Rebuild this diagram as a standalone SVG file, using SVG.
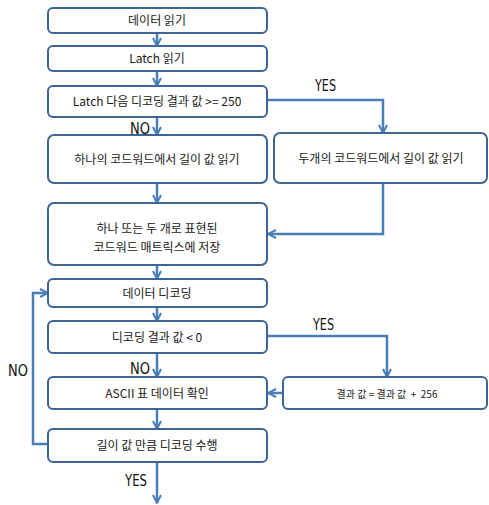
<svg xmlns="http://www.w3.org/2000/svg" width="489" height="505" viewBox="0 0 489 505">
<defs>
<style>
.box{fill:#fff;stroke:#3d6596;stroke-width:2}
.t{font-family:"Noto Sans CJK KR","Liberation Sans",sans-serif;font-size:12px;fill:#1a1a1a;text-anchor:middle}
.lbl{font-family:"DejaVu Sans","Noto Sans CJK KR",sans-serif;font-size:16px;fill:#111}
.c{fill:none;stroke:#4a7ebb;stroke-width:2.5}
</style>
<marker id="ah" viewBox="0 0 10 10" refX="9" refY="5" markerWidth="4" markerHeight="4" orient="auto" markerUnits="strokeWidth">
<path d="M1,1 L9,5 L1,9" fill="none" stroke="#4a7ebb" stroke-width="2"/>
</marker>
</defs>
<rect width="489" height="505" fill="#fff"/>
<g id="connectors">
<path class="c" d="M157,33 V46" marker-end="url(#ah)"/>
<path class="c" d="M157,71 V86" marker-end="url(#ah)"/>
<path class="c" d="M157,117 V135" marker-end="url(#ah)"/>
<path class="c" d="M267,100 H383 V133" marker-end="url(#ah)"/>
<path class="c" d="M157,183 V203" marker-end="url(#ah)"/>
<path class="c" d="M383,183 V234 H268" marker-end="url(#ah)"/>
<path class="c" d="M157,265 V279" marker-end="url(#ah)"/>
<path class="c" d="M157,307 V321" marker-end="url(#ah)"/>
<path class="c" d="M157,353 V377" marker-end="url(#ah)"/>
<path class="c" d="M267,336 H387 V377" marker-end="url(#ah)"/>
<path class="c" d="M283,393 H268" marker-end="url(#ah)"/>
<path class="c" d="M157,409 V429" marker-end="url(#ah)"/>
<path class="c" d="M48,444 H33 V293 H48" marker-end="url(#ah)"/>
<path class="c" d="M157,462 V503" marker-end="url(#ah)"/>
<text class="lbl" x="315" y="91" textLength="21" lengthAdjust="spacingAndGlyphs">YES</text>
<text class="lbl" x="130" y="134" textLength="20" lengthAdjust="spacingAndGlyphs">NO</text>
<text class="lbl" x="313" y="330" textLength="21" lengthAdjust="spacingAndGlyphs">YES</text>
<text class="lbl" x="130" y="374" textLength="20" lengthAdjust="spacingAndGlyphs">NO</text>
<text class="lbl" x="8" y="376" textLength="20" lengthAdjust="spacingAndGlyphs">NO</text>
<text class="lbl" x="125" y="486" textLength="22" lengthAdjust="spacingAndGlyphs">YES</text>
</g>
<g id="n1"><rect class="box" x="48" y="8" width="219" height="25" rx="5"/><text class="t" x="157" y="25">데이터 읽기</text></g>
<g id="n2"><rect class="box" x="48" y="46" width="219" height="25" rx="5"/><text class="t" x="157" y="63">Latch 읽기</text></g>
<g id="n3"><rect class="box" x="48" y="86" width="219" height="31" rx="5"/><text class="t" x="157" y="106">Latch 다음 디코딩 결과 값 &gt;= 250</text></g>
<g id="n4"><rect class="box" x="48" y="135" width="219" height="48" rx="6"/><text class="t" x="157" y="163.5">하나의 코드워드에서 길이 값 읽기</text></g>
<g id="n5"><rect class="box" x="274" y="133" width="213" height="50" rx="6"/><text class="t" x="381" y="162.5">두개의 코드워드에서 길이 값 읽기</text></g>
<g id="n6"><rect class="box" x="48" y="203" width="219" height="62" rx="6"/><text class="t" x="157" y="232.5">하나 또는 두 개로 표현된</text><text class="t" x="157" y="251.5">코드워드 매트릭스에 저장</text></g>
<g id="n7"><rect class="box" x="48" y="279" width="219" height="28" rx="5"/><text class="t" x="157" y="297.5">데이터 디코딩</text></g>
<g id="n8"><rect class="box" x="48" y="321" width="219" height="32" rx="5"/><text class="t" x="157" y="341.5">디코딩 결과 값 &lt; 0</text></g>
<g id="n9"><rect class="box" x="48" y="377" width="219" height="32" rx="5"/><text class="t" x="157" y="397.5">ASCII 표 데이터 확인</text></g>
<g id="n10"><rect class="box" x="283" y="377" width="204" height="32" rx="5"/><text class="t" x="387" y="398" style="font-size:10px;white-space:pre">결과 값 = 결과 값  +  256</text></g>
<g id="n11"><rect class="box" x="48" y="429" width="219" height="33" rx="5"/><text class="t" x="157" y="450">길이 값 만큼 디코딩 수행</text></g>
</svg>
